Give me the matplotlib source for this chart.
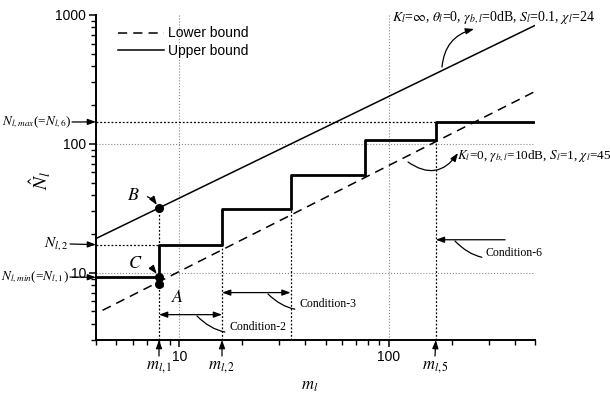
import matplotlib
matplotlib.use("Agg")
import matplotlib.pyplot as plt

plt.rcParams["mathtext.fontset"] = "stix"
plt.rcParams["font.family"] = ["Liberation Sans", "DejaVu Sans"]

W, H = 610, 403

# bounds
upper_m = [4, 500]
upper_N = [18.4, 830]
lower_m = [4.3, 500]
lower_N = [5.1, 255]

# step curve of N_l versus m_l
step_m = [4, 8, 16, 34, 77, 168, 500]
step_N = [9.2, 16.5, 31, 57, 108, 148, 148]

m_l1, m_l2, m_l3, m_l5 = 8, 16, 34, 168
N_l1, N_l2, N_lmax = 9.2, 16.5, 148
B_pt = (8, 31.5)
C_pt = (8, 9.2)
A_pt = (8, 8.2)

x_ticks = [10, 100]
y_ticks = [10, 100, 1000]

SERIF = ["Liberation Serif", "DejaVu Serif"]


def fp(x, y):
    # image pixel (top-left origin) -> figure pixels
    return (x, H - y)


fig = plt.figure(figsize=(6.1, 4.03), dpi=100)
ax = fig.add_axes([96 / W, 1 - 340 / H, 439 / W, 325 / H])
ax.set_xscale("log")
ax.set_yscale("log")
ax.set_xlim(4, 500)
ax.set_ylim(3, 1000)

for s in ["top", "right"]:
    ax.spines[s].set_visible(False)
for s in ["left", "bottom"]:
    ax.spines[s].set_linewidth(1.4)

ax.set_xticks(x_ticks)
ax.set_xticklabels([str(v) for v in x_ticks])
ax.set_yticks(y_ticks)
ax.set_yticklabels([str(v) for v in y_ticks])
ax.tick_params(which="major", direction="out", length=5, width=1.1, labelsize=10, pad=2)
ax.tick_params(which="minor", direction="out", length=3.5, width=1.0)
ax.xaxis.set_minor_formatter(matplotlib.ticker.NullFormatter())
ax.yaxis.set_minor_formatter(matplotlib.ticker.NullFormatter())

# light grid at decades
for v in x_ticks:
    ax.axvline(v, color="#888888", ls=":", lw=0.8, zorder=0)
for v in [10, 100]:
    ax.axhline(v, color="#888888", ls=":", lw=0.8, zorder=0)

# helper dotted lines
dot = dict(color="black", ls=(0, (1.5, 1.5)), lw=0.9, zorder=1)
ax.plot([m_l1, m_l1], [3, B_pt[1]], **dot)
ax.plot([4, m_l2], [N_l2, N_l2], **dot)
ax.plot([m_l2, m_l2], [3, N_l2], **dot)
ax.plot([m_l3, m_l3], [3, step_N[2]], **dot)
ax.plot([m_l5, m_l5], [3, N_lmax], **dot)
ax.plot([4, 500], [N_lmax, N_lmax], **dot)

ax.plot(lower_m, lower_N, color="black", lw=1.1, ls=(0, (6, 4)), label="Lower bound")
ax.plot(upper_m, upper_N, color="black", lw=1.1, label="Upper bound")
ax.step(step_m, step_N, where="post", color="black", lw=2.0, zorder=3)

for p in [B_pt, C_pt, A_pt]:
    ax.plot(*p, "o", color="black", ms=5.5, zorder=4)

leg = ax.legend(loc="upper left", bbox_to_anchor=(0.05, 0.965), frameon=False,
                fontsize=10, handlelength=3.3, handletextpad=0.3, borderpad=0,
                borderaxespad=0, labelspacing=0.25)

arr = dict(arrowstyle="-|>,head_length=0.55,head_width=0.2", color="black", lw=0.9,
           shrinkA=0, shrinkB=0, mutation_scale=9)
dbl = dict(arrowstyle="<|-|>,head_length=0.55,head_width=0.2", color="black", lw=0.9,
           shrinkA=0, shrinkB=0, mutation_scale=9)

# parameter texts
ax.text(*fp(392, 18), r"$K_l$=$\infty$, $\theta_l$=0, $\gamma_{b,l}$=0dB, $S_l$=0.1, $\chi_l$=24",
        transform=None, family=SERIF, fontsize=10, ha="left", va="center")
ax.annotate("", xy=fp(474, 29), xycoords="figure pixels", xytext=fp(442, 67),
            textcoords="figure pixels",
            arrowprops=dict(arr, connectionstyle="arc3,rad=-0.35"))
ax.text(*fp(457, 156), r"$K_l$=0, $\gamma_{b,l}$=10dB, $S_l$=1, $\chi_l$=45",
        transform=None, family=SERIF, fontsize=9.5, ha="left", va="center")
ax.annotate("", xy=fp(458, 153), xycoords="figure pixels", xytext=fp(408, 162),
            textcoords="figure pixels",
            arrowprops=dict(arr, connectionstyle="arc3,rad=0.5"))

# point labels
ax.annotate(r"$B$", xy=B_pt, xycoords="data", xytext=fp(133, 195), textcoords="figure pixels",
            fontsize=13, ha="center", va="center",
            arrowprops=dict(arr, connectionstyle="arc3,rad=-0.35", shrinkA=4, shrinkB=3))
ax.annotate(r"$C$", xy=C_pt, xycoords="data", xytext=fp(135, 264), textcoords="figure pixels",
            fontsize=13, ha="center", va="center",
            arrowprops=dict(arr, connectionstyle="arc3,rad=-0.3", shrinkA=4, shrinkB=3))
ax.annotate(r"$A$", xy=A_pt, xycoords="data", xytext=fp(178, 298), textcoords="figure pixels",
            fontsize=13, ha="center", va="center",
            arrowprops=dict(arrowstyle="-", color="black", lw=0.9, shrinkA=5, shrinkB=3))

# condition arrows
y_c2, y_c3, y_c6 = 4.72, 7.0, 18
ax.annotate("", xy=(m_l2, y_c2), xytext=(m_l1, y_c2), arrowprops=dbl)
ax.annotate("", xy=(m_l3, y_c3), xytext=(m_l2, y_c3), arrowprops=dbl)
ax.annotate("", xy=(m_l5, y_c6), xytext=(360, y_c6), arrowprops=arr)
lead = dict(arrowstyle="-", color="black", lw=0.9, shrinkA=1, shrinkB=0)
ax.annotate("Condition-2", xy=fp(197, 316), xycoords="figure pixels", xytext=fp(229, 327),
            textcoords="figure pixels", family=SERIF, fontsize=8.5, ha="left", va="center",
            arrowprops=dict(lead, connectionstyle="arc3,rad=-0.35"))
ax.annotate("Condition-3", xy=fp(268, 294), xycoords="figure pixels", xytext=fp(299, 304),
            textcoords="figure pixels", family=SERIF, fontsize=8.5, ha="left", va="center",
            arrowprops=dict(lead, connectionstyle="arc3,rad=-0.35"))
ax.annotate("Condition-6", xy=fp(455, 241), xycoords="figure pixels", xytext=fp(486, 253),
            textcoords="figure pixels", family=SERIF, fontsize=8.5, ha="left", va="center",
            arrowprops=dict(lead, connectionstyle="arc3,rad=-0.35"))

# y-axis side labels
for lab, yv, x0, ty, fs in [(r"$N_{l,max}$(=$N_{l,6}$)", N_lmax, 72, 122, 9.5),
                            (r"$N_{l,2}$", N_l2, 70, 244, 11),
                            (r"$N_{l,min}$(=$N_{l,1}$)", N_l1, 70, 277, 9.5)]:
    ax.annotate("", xy=(4, yv), xycoords="data", xytext=fp(x0, ty), textcoords="figure pixels",
                arrowprops=arr, annotation_clip=False)
    ax.text(*fp(x0 - 1, ty), lab, transform=None, family=SERIF, fontsize=fs,
            ha="right", va="center")

# x-axis side labels
for lab, xv, tx in [(r"$m_{l,1}$", m_l1, 159), (r"$m_{l,2}$", m_l2, 222), (r"$m_{l,5}$", m_l5, 435)]:
    ax.annotate("", xy=(xv, 3), xycoords="data", xytext=fp(tx, 356), textcoords="figure pixels",
                arrowprops=arr, annotation_clip=False)
    ax.text(*fp(tx, 367), lab, transform=None, fontsize=12, ha="center", va="center")

ax.text(*fp(310, 386), r"$m_l$", transform=None, fontsize=12, ha="center", va="center")
ax.text(*fp(40, 180), r"$\hat{N}_l$", transform=None, fontsize=14, ha="center", va="center",
        rotation=90)

fig.savefig("out.png", dpi=100)
